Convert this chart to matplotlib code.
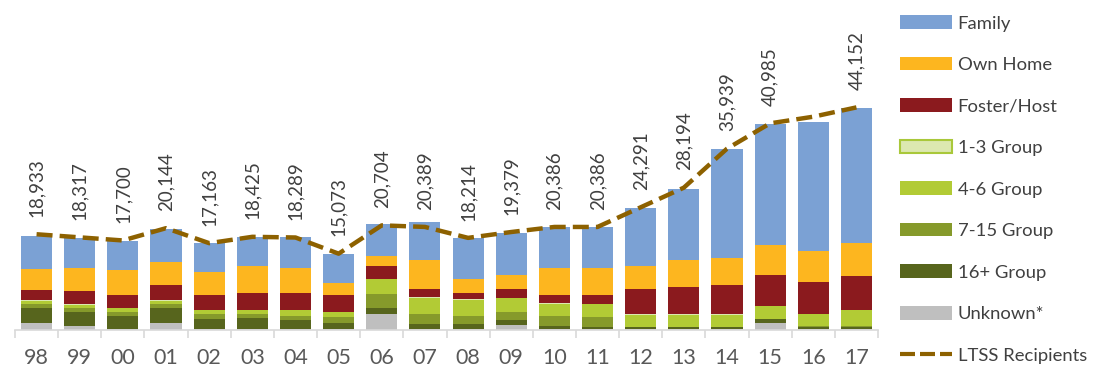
import matplotlib
matplotlib.use("Agg")
import matplotlib.pyplot as plt
import numpy as np
from matplotlib.patches import Patch
from matplotlib.lines import Line2D

plt.rcParams['font.family'] = ['Lato', 'DejaVu Sans']

years = ['98', '99', '00', '01', '02', '03', '04', '05', '06', '07',
         '08', '09', '10', '11', '12', '13', '14', '15', '16', '17']

unknown  = [1330, 600, 140, 1330, 140, 140, 140, 140, 2990, 140,
            140, 930, 140, 100, 100, 100, 100, 1250, 100, 100]
g16      = [2920, 2850, 2530, 2920, 1990, 2050, 1650, 1250, 1250, 860,
            860, 860, 460, 460, 340, 340, 340, 740, 460, 460]
g7_15    = [730, 800, 800, 730, 860, 800, 930, 1190, 2850, 1990,
            1590, 1650, 1990, 1990, 140, 140, 140, 100, 140, 140]
g4_6     = [600, 660, 800, 660, 800, 800, 1060, 800, 2920, 3320,
            3320, 2850, 2530, 2450, 2390, 2390, 2390, 2530, 2390, 3180]
g1_3     = [260, 200, 60, 260, 60, 60, 60, 60, 60, 60,
            60, 60, 60, 60, 60, 60, 60, 60, 60, 60]
foster   = [1990, 2450, 2530, 2850, 2920, 3380, 3320, 3380, 2530, 1650,
            1250, 1650, 1650, 1730, 5030, 5430, 5830, 6230, 6230, 6710]
own_home = [4120, 4580, 4980, 4580, 4640, 5370, 5030, 2450, 2050, 5770,
            2850, 2920, 5370, 5430, 4520, 5310, 5370, 5830, 6310, 6630]
family   = [6630, 6110, 5770, 6630, 5710, 5830, 6110, 5830, 6230, 7500,
            8020, 8300, 8220, 8160, 11600, 14130, 21630, 24020, 25610, 26800]

ltss = [18933, 18317, 17700, 20144, 17163, 18425, 18289, 15073, 20704, 20389,
        18214, 19379, 20386, 20386, 24291, 28194, 35939, 40985, 42300, 44152]
ltss_labels = ['18,933', '18,317', '17,700', '20,144', '17,163', '18,425', '18,289',
               '15,073', '20,704', '20,389', '18,214', '19,379', '20,386', '20,386',
               '24,291', '28,194', '35,939', '40,985', '', '44,152']

series = [
    ('Unknown*', unknown, '#BFBFBF', None),
    ('16+ Group', g16, '#57651D', None),
    ('7-15 Group', g7_15, '#869A2B', None),
    ('4-6 Group', g4_6, '#B2CB35', None),
    ('1-3 Group', g1_3, '#DCE8B0', '#A9C83A'),
    ('Foster/Host', foster, '#8B1A1E', None),
    ('Own Home', own_home, '#FDB61F', None),
    ('Family', family, '#7BA1D4', None),
]
line_color = '#8D6100'

W, H = 1112, 380
fig = plt.figure(figsize=(W / 100, H / 100), dpi=100)
ax = fig.add_axes([15 / W, 50.5 / H, (878 - 15) / W, 329.5 / H])

x = np.arange(len(years))
bottom = np.zeros(len(years))
for name, vals, col, ec in series:
    v = np.array(vals, dtype=float)
    ax.bar(x, v, bottom=bottom, width=0.72, color=col, linewidth=0, zorder=2)
    bottom += v

ax.plot(x, ltss, color=line_color, lw=3.2, linestyle=(0, (3.6, 1.6)),
        zorder=3, solid_capstyle='butt', dash_capstyle='butt')

for xi, v, lab in zip(x, ltss, ltss_labels):
    if lab:
        ax.annotate(lab, xy=(xi, v), xytext=(0, 12.5), textcoords='offset points',
                    rotation=90, ha='center', va='bottom', fontsize=13.5,
                    color='#404040')

ax.set_xlim(-0.5, len(years) - 0.5)
ax.set_ylim(0, 65500)
for s in ['top', 'left', 'right']:
    ax.spines[s].set_visible(False)
ax.spines['bottom'].set_color('#D9D9D9')
ax.spines['bottom'].set_linewidth(1.2)
ax.set_yticks([])
ax.set_xticks(x)
ax.set_xticklabels(years, fontsize=15.5, color='#595959')
ax.tick_params(axis='x', which='major', length=0, pad=13)
ax.set_xticks(np.arange(-0.5, len(years), 1.0), minor=True)
ax.tick_params(axis='x', which='minor', length=6, color='#D9D9D9', width=1.2)

handles = []
for name, vals, col, ec in reversed(series):
    if ec:
        handles.append(Patch(facecolor=col, edgecolor=ec, linewidth=1.5, label=name))
    else:
        handles.append(Patch(facecolor=col, edgecolor=col, linewidth=0, label=name))
handles.append(Line2D([0], [0], color=line_color, lw=3, linestyle=(0, (3.6, 1.2)),
                      label='LTSS Recipients'))

leg = fig.legend(handles=handles, loc='upper left', bbox_to_anchor=(893 / W, 1 - 8 / H),
                 frameon=False, fontsize=13.3, handlelength=2.8, handleheight=0.75,
                 handletextpad=0.3, labelspacing=1.37, borderaxespad=0)
for t in leg.get_texts():
    t.set_color('#404040')

fig.savefig('out.png', dpi=100)
